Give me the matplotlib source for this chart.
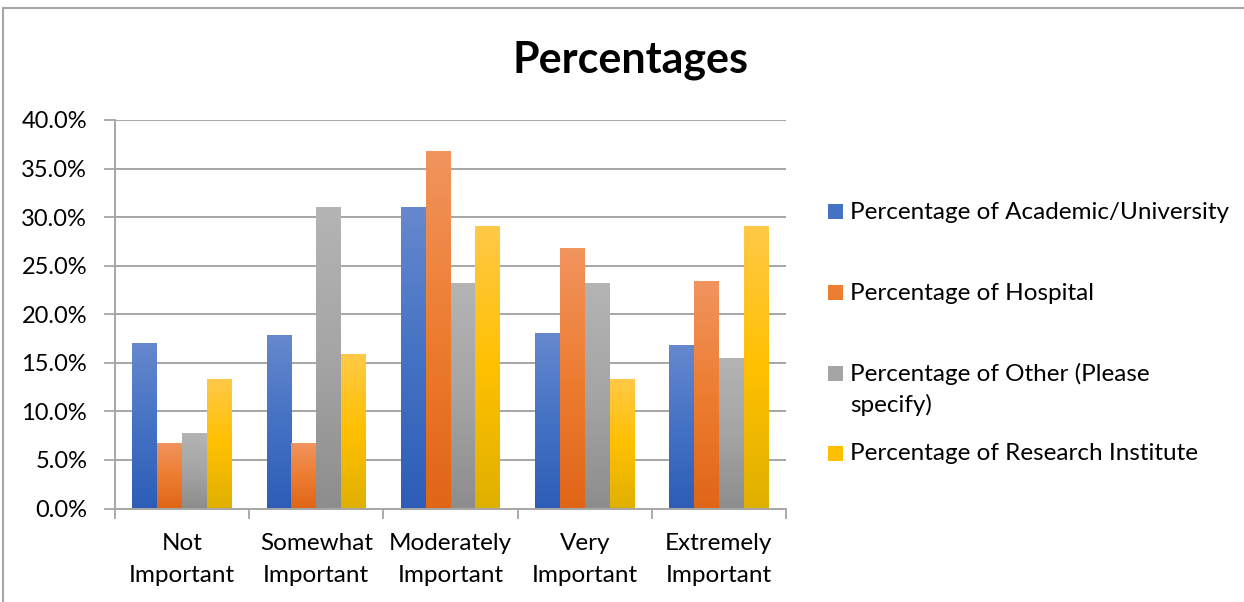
import numpy as np
import matplotlib.pyplot as plt
from matplotlib.colors import LinearSegmentedColormap
from matplotlib.patches import Rectangle
from matplotlib.lines import Line2D

plt.rcParams['font.family'] = ['Lato', 'DejaVu Sans']

# Survey data (percent of respondents per organisation type)
categories = ['Not\nImportant', 'Somewhat\nImportant', 'Moderately\nImportant',
              'Very\nImportant', 'Extremely\nImportant']
series_names = ['Percentage of Academic/University', 'Percentage of Hospital',
                'Percentage of Other (Please\nspecify)', 'Percentage of Research Institute']
academic = [16.9, 17.8, 30.9, 18.0, 16.7]
hospital = [6.6, 6.6, 36.7, 26.7, 23.3]
other = [7.7, 30.9, 23.1, 23.1, 15.4]
research = [13.2, 15.8, 29.0, 13.2, 29.0]

# (top, middle, bottom) gradient stops for each series
gradients = [
    ('#6688CE', '#4472C4', '#2D5DB7'),
    ('#F1945E', '#ED7D31', '#E06517'),
    ('#B4B4B4', '#A5A5A5', '#8D8D8D'),
    ('#FFC947', '#FFC000', '#E0B000'),
]

W, H = 1244, 602
fig = plt.figure(figsize=(W / 100, H / 100), dpi=100)
ax = fig.add_axes([115 / W, 1 - 508.5 / H, (786 - 115) / W, (508.5 - 120) / H])

grey = '#A6A6A6'
data = [academic, hospital, other, research]
x = np.arange(len(categories))
bw = 0.185

for j, vals in enumerate(data):
    top, mid, bot = gradients[j]
    cmap = LinearSegmentedColormap.from_list('g%d' % j, [bot, mid, top])
    bars = ax.bar(x + (j - 1.5) * bw, vals, width=bw, color=mid, zorder=2, linewidth=0)
    grad = np.linspace(1, 0, 256).reshape(-1, 1)
    for rect in bars:
        x0 = rect.get_x()
        ax.imshow(grad, extent=(x0, x0 + rect.get_width(), 0, rect.get_height()),
                  aspect='auto', cmap=cmap, vmin=0, vmax=1, zorder=3,
                  interpolation='bilinear')

ax.set_xlim(-0.5, len(categories) - 0.5)
ax.set_ylim(0, 40)
ax.set_aspect('auto')

ax.set_yticks(np.arange(0, 41, 5))
ax.set_yticklabels(['%.1f%%' % v for v in np.arange(0, 41, 5)], fontsize=17)
ax.yaxis.grid(True, color=grey, linewidth=1.4)
ax.set_axisbelow(True)

ax.set_xticks(np.arange(-0.5, len(categories)), minor=False)
ax.set_xticklabels([])
ax.set_xticks(x, minor=True)
ax.set_xticklabels(categories, minor=True, fontsize=17.5, linespacing=1.6)
ax.tick_params(axis='x', which='major', length=7, width=1.3, color=grey)
ax.tick_params(axis='x', which='minor', length=0, pad=18)
ax.tick_params(axis='y', length=8, width=1.3, color=grey, pad=12)

for s in ['top', 'right']:
    ax.spines[s].set_visible(False)
for s in ['left', 'bottom']:
    ax.spines[s].set_color(grey)
    ax.spines[s].set_linewidth(1.4)

fig.text(631 / W, 1 - 60 / H, 'Percentages', fontsize=31, fontweight='bold',
         ha='center', va='center')

# legend on the right
for j, name in enumerate(series_names):
    yc = 212 + j * 80.5
    fig.add_artist(Rectangle((828 / W, 1 - (yc + 7.5) / H), 15 / W, 15 / H,
                             transform=fig.transFigure, facecolor=gradients[j][1],
                             edgecolor='none'))
    fig.text(850 / W, 1 - (yc - 10) / H, name, fontsize=17.5, ha='left', va='top',
             linespacing=1.5)

# chart frame
fig.add_artist(Line2D([3 / W, 3 / W], [0, 1 - 8 / H], transform=fig.transFigure,
                      color=grey, linewidth=1.5))
fig.add_artist(Line2D([3 / W, 1], [1 - 8 / H, 1 - 8 / H], transform=fig.transFigure,
                      color=grey, linewidth=1.5))

fig.savefig('out.png', dpi=100)
